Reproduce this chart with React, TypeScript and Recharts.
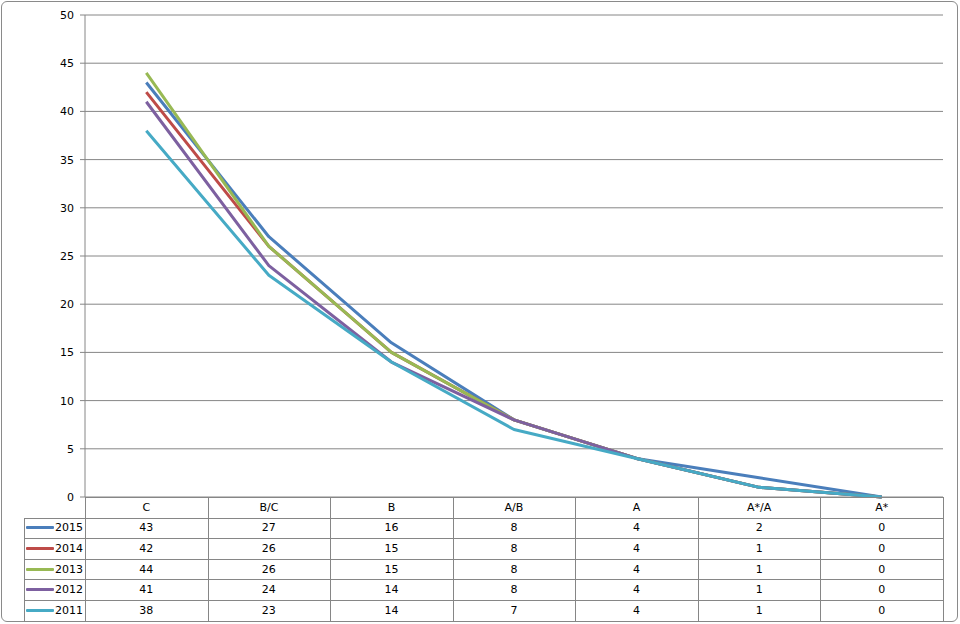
import { LineChart, Line, XAxis, YAxis, CartesianGrid } from 'recharts';

const grades = ['C', 'B/C', 'B', 'A/B', 'A', 'A*/A', 'A*'];
const years = ['2015', '2014', '2013', '2012', '2011'];
const y2015 = [43, 27, 16, 8, 4, 2, 0];
const y2014 = [42, 26, 15, 8, 4, 1, 0];
const y2013 = [44, 26, 15, 8, 4, 1, 0];
const y2012 = [41, 24, 14, 8, 4, 1, 0];
const y2011 = [38, 23, 14, 7, 4, 1, 0];
const yTicks = [0, 5, 10, 15, 20, 25, 30, 35, 40, 45, 50];

const series = [y2015, y2014, y2013, y2012, y2011];
const colors = ['#4A7EBB', '#BE4B48', '#98B954', '#7D60A0', '#46AAC5'];

const data = grades.map((g, i) => {
  const row: Record<string, string | number> = { name: g };
  years.forEach((y, s) => { row[y] = series[s][i]; });
  return row;
});

const FONT = '"DejaVu Sans", Verdana, sans-serif';
const GRID = '#868686';
const PLOT_L = 85;
const PLOT_R = 943;
const PLOT_T = 15;
const PLOT_B = 497;
const COL_W = (PLOT_R - PLOT_L) / grades.length;
const ROW_H = 20.6;
const LEG_L = 24;

const cellText: React.CSSProperties = {
  position: 'absolute',
  fontFamily: FONT,
  fontSize: 11,
  color: '#000',
  display: 'flex',
  alignItems: 'center',
  justifyContent: 'center',
  boxSizing: 'border-box',
};

function DataTable() {
  const cells: React.ReactNode[] = [];
  // header row
  grades.forEach((g, i) => {
    cells.push(
      <div key={'h' + i} style={{ ...cellText, left: PLOT_L + i * COL_W, top: PLOT_B, width: COL_W, height: ROW_H }}>{g}</div>
    );
  });
  years.forEach((y, r) => {
    const top = PLOT_B + (r + 1) * ROW_H;
    cells.push(
      <div key={'l' + r} style={{ ...cellText, left: LEG_L, top, width: PLOT_L - LEG_L, height: ROW_H, justifyContent: 'flex-start' }}>
        <span style={{ display: 'inline-block', width: 28, height: 3, background: colors[r], marginLeft: 2, borderRadius: 1 }} />
        <span style={{ marginLeft: 1 }}>{y}</span>
      </div>
    );
    series[r].forEach((v, i) => {
      cells.push(
        <div key={'c' + r + '-' + i} style={{ ...cellText, left: PLOT_L + i * COL_W, top, width: COL_W, height: ROW_H }}>{v}</div>
      );
    });
  });
  const lines: React.ReactNode[] = [];
  // horizontal lines
  for (let r = 0; r <= years.length + 1; r++) {
    const y = Math.round(PLOT_B + r * ROW_H) + 0.5;
    const x1 = r === 0 ? PLOT_L : LEG_L;
    lines.push(<line key={'hl' + r} x1={x1} x2={PLOT_R} y1={y} y2={y} stroke={GRID} />);
  }
  const bottom = Math.round(PLOT_B + (years.length + 1) * ROW_H) + 0.5;
  lines.push(<line key="vl-leg" x1={LEG_L + 0.5} x2={LEG_L + 0.5} y1={Math.round(PLOT_B + ROW_H) + 0.5} y2={bottom} stroke={GRID} />);
  for (let i = 0; i <= grades.length; i++) {
    const x = Math.round(PLOT_L + i * COL_W) + 0.5;
    lines.push(<line key={'vl' + i} x1={x} x2={x} y1={PLOT_B} y2={bottom} stroke={GRID} />);
  }
  return (
    <>
      <svg width={960} height={624} style={{ position: 'absolute', left: 0, top: 0, pointerEvents: 'none' }}>
        {lines}
      </svg>
      {cells}
    </>
  );
}

export default function App() {
  return (
    <div style={{ position: 'absolute', left: 0, top: 0, width: 960, height: 624, background: '#fff', overflow: 'hidden' }}>
      <div style={{ position: 'absolute', left: 1, top: 1, width: 957, height: 621, border: '1px solid #8a8a8a', borderRadius: 6, boxSizing: 'border-box' }} />
      <div style={{ position: 'absolute', left: 0, top: 0 }}>
        <LineChart
          width={960}
          height={624}
          data={data}
          margin={{ top: PLOT_T, right: 960 - PLOT_R, bottom: 624 - PLOT_B, left: 0 }}
        >
          <CartesianGrid vertical={false} stroke={GRID} strokeWidth={1} />
          <XAxis dataKey="name" scale="band" hide />
          <YAxis
            width={PLOT_L}
            domain={[0, 50]}
            ticks={yTicks}
            interval={0}
            axisLine={{ stroke: GRID }}
            tickLine={{ stroke: GRID }}
            tickSize={5}
            tickMargin={6}
            tick={{ fontSize: 11, fontFamily: FONT, fill: '#000' }}
          />
          {years.map((y, s) => (
            <Line
              key={y}
              type="linear"
              dataKey={y}
              stroke={colors[s]}
              strokeWidth={3}
              strokeLinejoin="round"
              dot={false}
              isAnimationActive={false}
            />
          ))}
        </LineChart>
      </div>
      <DataTable />
    </div>
  );
}
